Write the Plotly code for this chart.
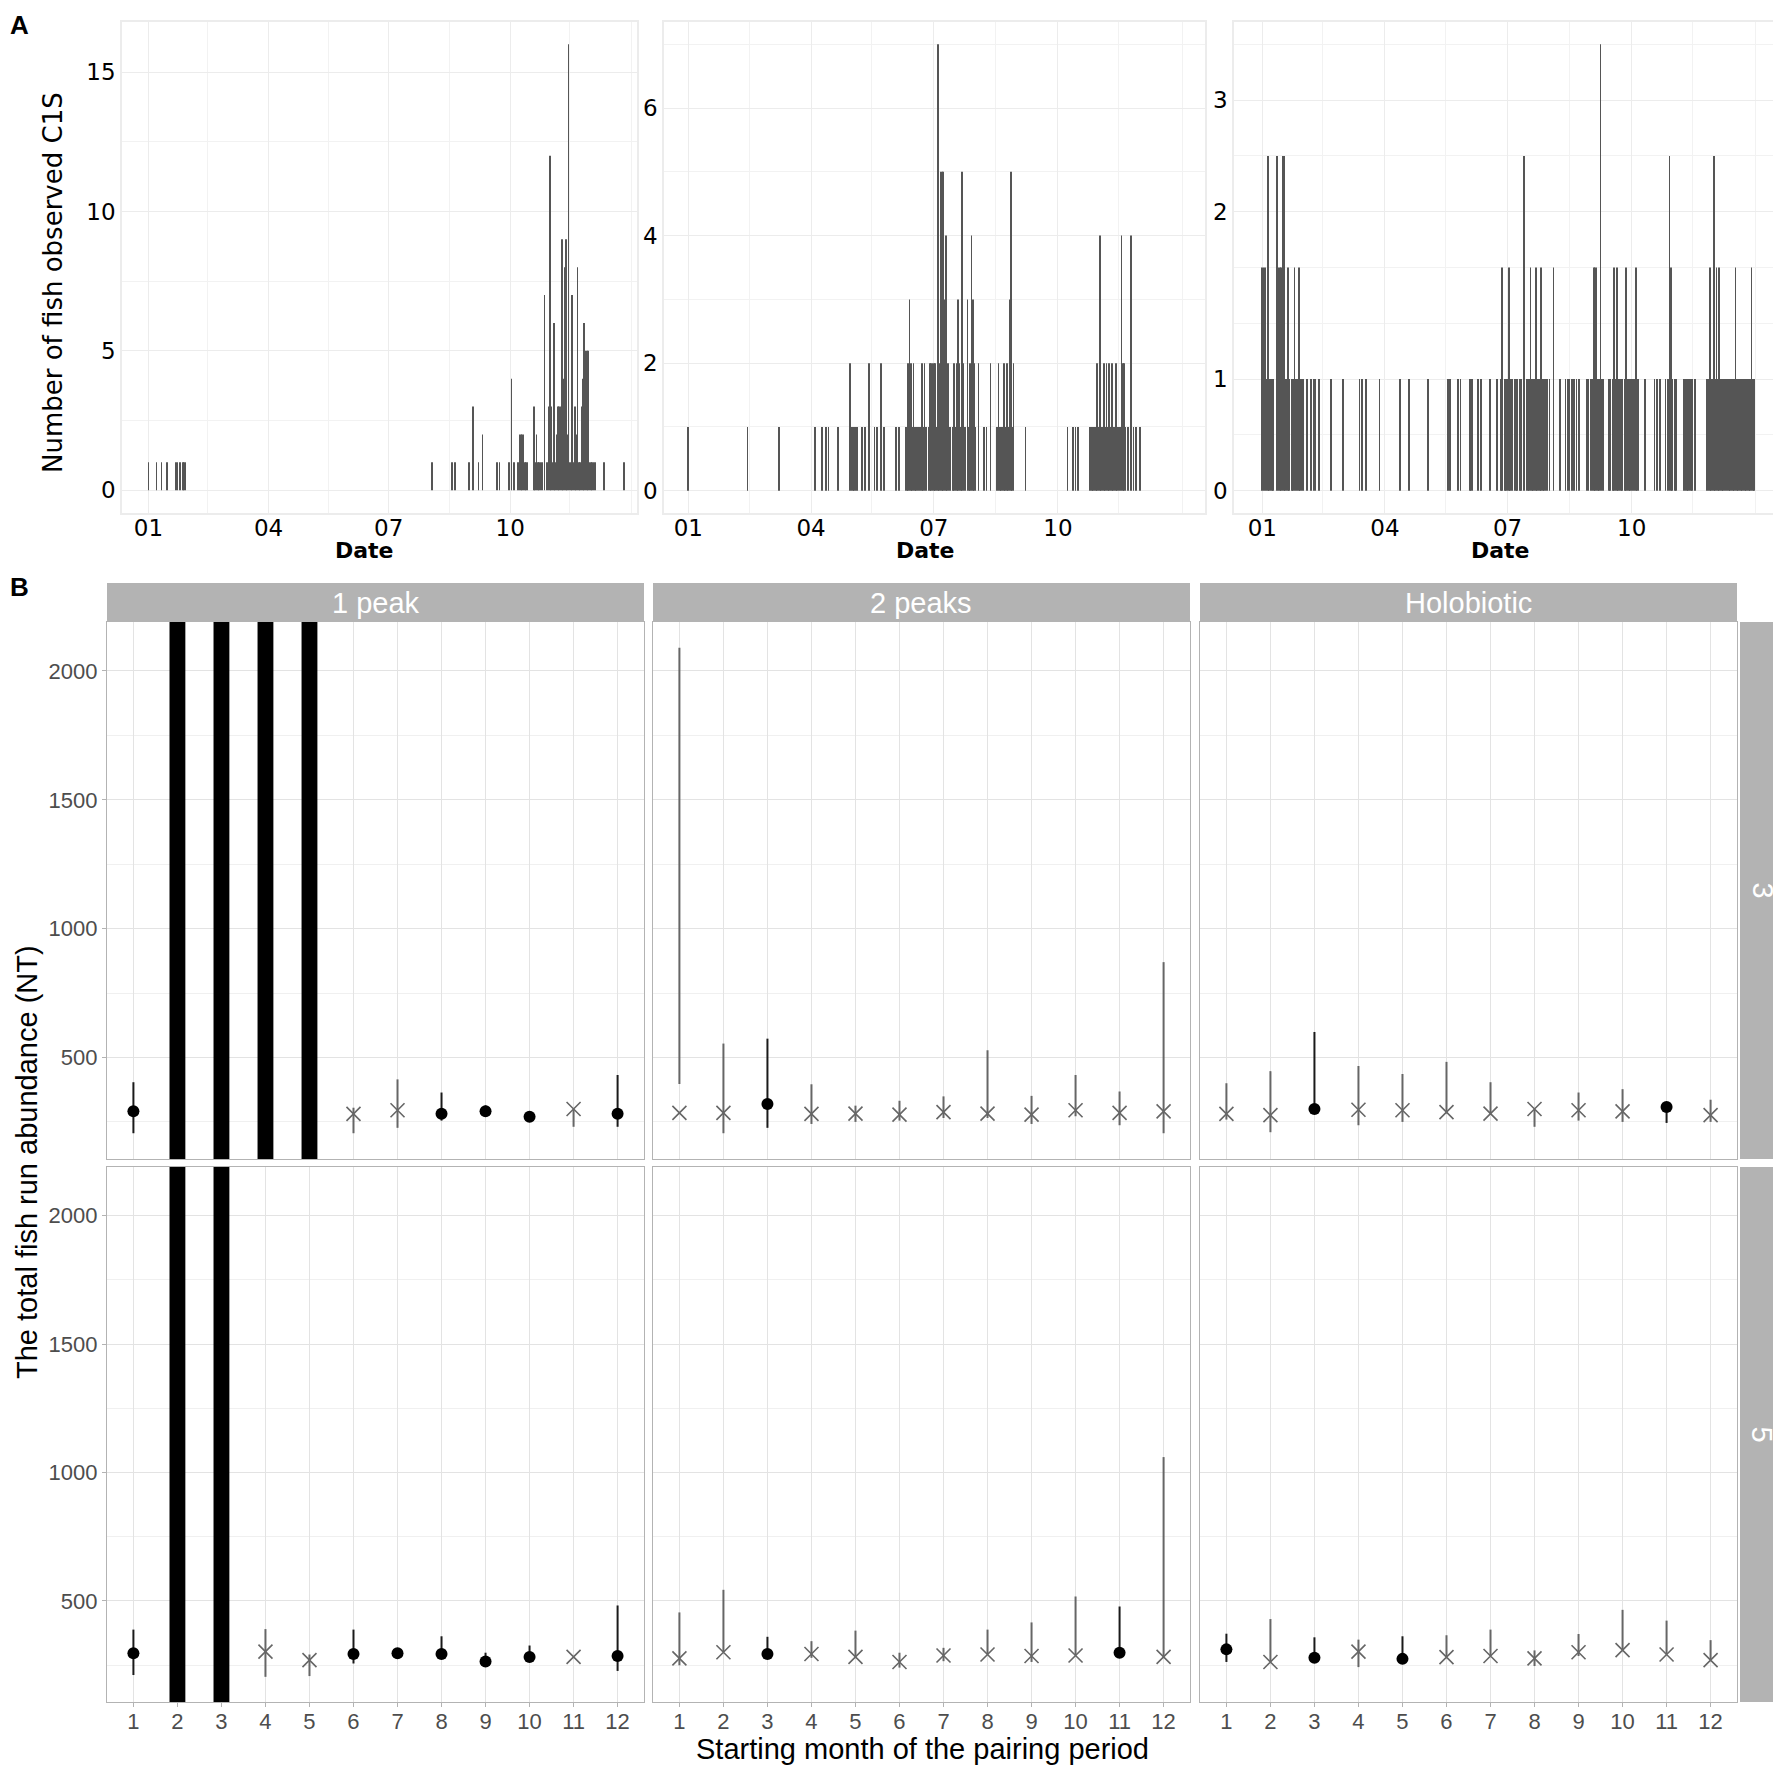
import numpy as np
import pandas as pd
import plotly.graph_objects as go

W, H = 1781, 1770

# ---------------- panel A : fish observed per day (day of year, 2020) ----------------
a1_days = [1, 7, 11, 15, 22, 23, 25, 27, 28, 29,
           216, 231, 233, 244, 247, 251, 254, 265, 267, 274,
           276, 278, 281, 282, 283, 284, 285, 286, 287, 288,
           293, 294, 295, 296, 297, 298, 299, 301, 303, 304,
           305, 306, 307, 308, 309, 310, 311, 312, 313, 314,
           315, 316, 317, 318, 319, 320, 321, 322, 323, 324,
           325, 326, 327, 328, 329, 330, 331, 332, 333, 334,
           335, 336, 337, 338, 339, 346, 361]
a1_counts = [1, 1, 1, 1, 1, 1, 1, 1, 1, 1,
             1, 1, 1, 1, 3, 1, 2, 1, 1, 1,
             4, 1, 1, 2, 2, 2, 2, 1, 1, 1,
             3, 1, 2, 1, 1, 1, 1, 7, 1, 3,
             12, 3, 1, 6, 1, 2, 3, 3, 3, 9,
             4, 8, 9, 2, 16, 1, 1, 7, 1, 3,
             2, 8, 1, 1, 3, 4, 6, 5, 5, 5,
             1, 1, 1, 1, 1, 1, 1]

a2_days = [1, 45, 68, 95, 100, 103, 105, 112, 121, 122,
           123, 124, 125, 126, 130, 132, 135, 139, 141, 144,
           146, 155, 157, 162, 163, 164, 165, 166, 167, 168,
           169, 170, 171, 172, 173, 174, 175, 176, 177, 179,
           180, 181, 182, 183, 184, 185, 186, 187, 188, 189,
           190, 191, 192, 193, 194, 195, 197, 198, 199, 200,
           201, 202, 203, 204, 205, 206, 208, 209, 210, 211,
           212, 213, 214, 216, 220, 222, 225, 230, 231, 232,
           233, 234, 235, 236, 237, 238, 239, 240, 241, 242,
           251, 282, 286, 288, 290, 299, 300, 301, 302, 303,
           304, 305, 306, 307, 308, 309, 310, 311, 312, 313,
           314, 315, 316, 317, 318, 319, 320, 321, 322, 323,
           324, 325, 327, 329, 331, 333, 336]
a2_counts = [1, 1, 1, 1, 1, 1, 1, 1, 2, 1,
             1, 1, 1, 1, 1, 1, 2, 1, 1, 2,
             1, 1, 1, 1, 1, 2, 3, 2, 1, 2,
             1, 1, 1, 1, 1, 2, 1, 2, 1, 1,
             2, 2, 2, 2, 2, 1, 7, 2, 5, 5,
             5, 3, 4, 2, 2, 1, 1, 2, 1, 2,
             3, 2, 1, 5, 2, 1, 3, 1, 2, 4,
             3, 2, 1, 2, 1, 1, 2, 1, 2, 1,
             1, 1, 2, 1, 2, 1, 3, 5, 1, 2,
             1, 1, 1, 1, 1, 1, 1, 1, 1, 1,
             2, 1, 4, 1, 1, 2, 1, 2, 1, 2,
             1, 2, 1, 1, 2, 1, 1, 1, 4, 2,
             2, 1, 1, 4, 1, 1, 1]

a3_days = [1, 2, 3, 4, 5, 6, 7, 8, 9, 12,
           13, 14, 15, 16, 17, 18, 19, 20, 21, 23,
           24, 25, 26, 27, 28, 29, 30, 31, 34, 37,
           39, 40, 43, 52, 61, 73, 75, 78, 88, 103,
           110, 124, 139, 140, 146, 148, 155, 156, 157, 161,
           163, 170, 175, 178, 179, 181, 182, 183, 184, 185,
           186, 188, 189, 190, 192, 193, 195, 197, 198, 199,
           200, 201, 202, 203, 204, 205, 206, 207, 208, 209,
           210, 211, 212, 214, 217, 222, 226, 228, 229, 231,
           232, 234, 236, 242, 243, 245, 246, 247, 248, 249,
           250, 251, 252, 253, 254, 258, 259, 261, 262, 263,
           264, 265, 266, 267, 268, 270, 271, 272, 273, 274,
           275, 276, 277, 278, 279, 280, 285, 292, 294, 296,
           300, 302, 303, 304, 305, 307, 308, 314, 315, 316,
           317, 318, 319, 320, 322, 331, 332, 333, 334, 335,
           336, 337, 338, 339, 340, 341, 342, 343, 344, 345,
           346, 347, 348, 349, 350, 351, 352, 353, 354, 355,
           356, 357, 358, 359, 360, 361, 362, 363, 364, 365,
           366]
a3_counts = [2, 2, 2, 1, 3, 1, 1, 1, 1, 3,
             2, 2, 2, 3, 3, 1, 1, 2, 1, 1,
             1, 2, 1, 1, 2, 1, 1, 1, 1, 1,
             1, 1, 1, 1, 1, 1, 1, 1, 1, 1,
             1, 1, 1, 1, 1, 1, 1, 1, 1, 1,
             1, 1, 1, 1, 2, 1, 1, 1, 2, 1,
             1, 1, 1, 1, 1, 1, 3, 1, 1, 1,
             2, 1, 1, 1, 2, 1, 1, 1, 2, 1,
             1, 1, 1, 1, 2, 1, 1, 1, 1, 1,
             1, 1, 1, 1, 1, 1, 1, 2, 2, 2,
             1, 1, 4, 1, 1, 1, 1, 1, 2, 1,
             2, 1, 1, 1, 1, 1, 2, 1, 1, 1,
             1, 1, 1, 2, 1, 1, 1, 1, 1, 1,
             1, 1, 3, 2, 1, 1, 1, 1, 1, 1,
             1, 1, 1, 1, 1, 1, 1, 2, 1, 1,
             3, 1, 2, 1, 2, 1, 1, 1, 1, 1,
             1, 1, 1, 1, 1, 1, 2, 1, 1, 1,
             1, 1, 1, 1, 1, 1, 1, 1, 2, 1,
             1]

date_ticks = ["2020-01-01", "2020-04-01", "2020-07-01", "2020-10-01"]
date_labels = ["01", "04", "07", "10"]
date_minor = ["2020-02-15", "2020-05-16", "2020-08-16", "2020-11-15", "2021-01-01"]

# ---------------- panel B : total fish run abundance ----------------
months = [1, 2, 3, 4, 5, 6, 7, 8, 9, 10, 11, 12]
col_labels = ["1 peak", "2 peaks", "Holobiotic"]
row_labels = ["3", "5"]
OPEN_TOP = 10000  # unbounded interval, drawn as a full-height bar

peak1_r3_est = [291, None, None, None, None, 281, 295, 282, 291, 270, 300, 282]
peak1_r3_lo = [206, None, None, None, None, 206, 227, 255, 272, 262, 231, 231]
peak1_r3_hi = [404, None, None, None, None, 305, 415, 364, 314, 280, 300, 432]
peak1_r3_shape = ["o", "", "", "", "", "x", "x", "o", "o", "o", "x", "o"]
peak1_r3_open = [2, 3, 4, 5]

peak2_r3_est = [285, 285, 319, 281, 282, 278, 288, 282, 278, 295, 285, 291]
peak2_r3_lo = [397, 206, 227, 242, 250, 255, 265, 265, 242, 272, 237, 206]
peak2_r3_hi = [2090, 554, 573, 396, 313, 332, 349, 528, 351, 432, 368, 870]
peak2_r3_shape = ["x", "x", "o", "x", "x", "x", "x", "x", "x", "x", "x", "x"]
peak2_r3_open = []

holo_r3_est = [281, 276, 300, 297, 295, 288, 282, 300, 295, 291, 308, 276]
holo_r3_lo = [259, 210, 300, 237, 250, 283, 282, 231, 255, 250, 246, 250]
holo_r3_hi = [400, 447, 599, 467, 436, 483, 404, 300, 364, 377, 323, 336]
holo_r3_shape = ["x", "x", "o", "x", "x", "x", "x", "x", "x", "x", "o", "x"]
holo_r3_open = []

peak1_r5_est = [296, None, None, 302, 269, 293, 296, 293, 264, 281, 282, 285]
peak1_r5_lo = [211, None, None, 204, 207, 256, 285, 278, 249, 265, 282, 227]
peak1_r5_hi = [388, None, None, 390, 291, 388, 314, 362, 298, 326, 282, 482]
peak1_r5_shape = ["o", "", "", "x", "x", "o", "o", "o", "o", "o", "x", "o"]
peak1_r5_open = [2, 3]

peak2_r5_est = [276, 300, 293, 293, 282, 262, 287, 291, 285, 287, 298, 282]
peak2_r5_lo = [249, 300, 293, 278, 282, 240, 265, 291, 262, 287, 278, 282]
peak2_r5_hi = [455, 543, 360, 343, 384, 298, 317, 388, 416, 517, 478, 1060]
peak2_r5_shape = ["x", "x", "o", "x", "x", "x", "x", "x", "x", "x", "o", "x"]
peak2_r5_open = []

holo_r5_est = [311, 262, 278, 302, 274, 281, 285, 276, 300, 308, 291, 269]
holo_r5_lo = [262, 262, 259, 242, 274, 281, 285, 246, 285, 308, 291, 269]
holo_r5_hi = [372, 429, 358, 349, 362, 366, 388, 307, 371, 465, 423, 347]
holo_r5_shape = ["o", "x", "o", "x", "o", "x", "x", "x", "x", "x", "x", "x"]
holo_r5_open = []

b_panels = [
    (peak1_r3_est, peak1_r3_lo, peak1_r3_hi, peak1_r3_shape, peak1_r3_open),
    (peak2_r3_est, peak2_r3_lo, peak2_r3_hi, peak2_r3_shape, peak2_r3_open),
    (holo_r3_est, holo_r3_lo, holo_r3_hi, holo_r3_shape, holo_r3_open),
    (peak1_r5_est, peak1_r5_lo, peak1_r5_hi, peak1_r5_shape, peak1_r5_open),
    (peak2_r5_est, peak2_r5_lo, peak2_r5_hi, peak2_r5_shape, peak2_r5_open),
    (holo_r5_est, holo_r5_lo, holo_r5_hi, holo_r5_shape, holo_r5_open),
]


def fx(p):
    return p / W


def fy(p):
    return 1 - p / H


def to_dates(days):
    base = pd.Timestamp("2020-01-01")
    return [base + pd.Timedelta(days=d - 1) for d in days]


def ax(n):
    return ("x" if n == 1 else "x%d" % n), ("y" if n == 1 else "y%d" % n)


fig = go.Figure()
layout = {}

# ---- A panels
a_data = [(a1_days, a1_counts), (a2_days, a2_counts), (a3_days, a3_counts)]
a_xpx = [(114, 629), (656, 1197), (1226, 1780)]
a_xrange = [["2019-12-12", "2021-01-05"], ["2019-12-14", "2021-01-18"], ["2019-12-11", "2021-01-25"]]
a_yrange = [[-0.82, 16.8], [-0.35, 7.35], [-0.2, 4.2]]
a_yticks = [([0, 5, 10, 15], ["0", "5", "10", "15"], 2.5),
            ([0, 2, 4, 6], ["0", "2", "4", "6"], 1),
            ([0, 1, 2.5, 3.5], ["0", "1", "2", "3"], 0.5)]

a_font = dict(family="DejaVu Sans", size=23, color="black")
for i in range(3):
    n = i + 1
    xa, ya = ax(n)
    days, counts = a_data[i]
    fig.add_trace(go.Bar(x=to_dates(days), y=counts, width=0.5 * 86400000,
                         marker=dict(color="#555555", line=dict(width=0)),
                         xaxis=xa, yaxis=ya, showlegend=False))
    layout["xaxis" if n == 1 else "xaxis%d" % n] = dict(
        domain=[fx(a_xpx[i][0]), fx(a_xpx[i][1])], anchor=ya, type="date",
        range=a_xrange[i], tickmode="array", tickvals=date_ticks, ticktext=date_labels,
        tickfont=a_font, ticklabelstandoff=-6, showgrid=True, gridcolor="#ececec", gridwidth=1,
        minor=dict(tickmode="array", tickvals=date_minor, showgrid=True, gridcolor="#f2f2f2"),
        showline=True, mirror=True, linecolor="#ececec", linewidth=1.5, zeroline=False, ticks="")
    tv, tt, mdt = a_yticks[i]
    layout["yaxis" if n == 1 else "yaxis%d" % n] = dict(
        domain=[fy(505), fy(14)], anchor=xa, range=a_yrange[i],
        tickmode="array", tickvals=tv, ticktext=tt, tickfont=a_font,
        showgrid=True, gridcolor="#ececec", gridwidth=1,
        minor=dict(dtick=mdt, tick0=0, showgrid=True, gridcolor="#f2f2f2"),
        showline=True, mirror=True, linecolor="#ececec", linewidth=1.5, zeroline=False, ticks="")

# ---- B panels
b_xpx = [(99, 636), (645, 1182), (1192, 1729)]
b_ypx = [(614, 1151), (1159, 1694)]
b_font = dict(family="Liberation Sans", size=22, color="#4d4d4d")
for k, (est, lo, hi, shape, open_m) in enumerate(b_panels):
    r, c = divmod(k, 3)
    n = 4 + k
    xa, ya = ax(n)
    if open_m:
        fig.add_trace(go.Bar(x=open_m, y=[OPEN_TOP] * len(open_m), base=0, width=0.36,
                             marker=dict(color="black", line=dict(width=0)),
                             xaxis=xa, yaxis=ya, showlegend=False))
    for sym, lcol in (("x", "#666666"), ("o", "#1a1a1a")):
        sx, sy = [], []
        px_, py_ = [], []
        for m, e, l, h, s in zip(months, est, lo, hi, shape):
            if s != sym:
                continue
            sx += [m, m, None]
            sy += [l, h, None]
            px_.append(m)
            py_.append(e)
        fig.add_trace(go.Scatter(x=sx, y=sy, mode="lines", line=dict(color=lcol, width=2),
                                 xaxis=xa, yaxis=ya, showlegend=False, hoverinfo="skip"))
        if sym == "x":
            mk = dict(symbol="x-thin", size=14, line=dict(color="#666666", width=1.6))
        else:
            mk = dict(symbol="circle", size=12, color="black", line=dict(width=0))
        fig.add_trace(go.Scatter(x=px_, y=py_, mode="markers", marker=mk,
                                 xaxis=xa, yaxis=ya, showlegend=False))
    layout["xaxis%d" % n] = dict(
        domain=[fx(b_xpx[c][0]), fx(b_xpx[c][1])], anchor=ya, range=[0.4, 12.6],
        tickmode="array", tickvals=months, showticklabels=(r == 1), tickfont=b_font,
        ticks="outside" if r == 1 else "", ticklen=4, tickcolor="#b3b3b3", ticklabelstandoff=-5,
        showgrid=True, gridcolor="#e3e3e3", gridwidth=1.2,
        showline=True, mirror=True, linecolor="#b3b3b3", linewidth=1.4, zeroline=False)
    layout["yaxis%d" % n] = dict(
        domain=[fy(b_ypx[r][1]), fy(b_ypx[r][0])], anchor=xa, range=[106, 2190],
        tickmode="array", tickvals=[500, 1000, 1500, 2000], showticklabels=(c == 0), tickfont=b_font,
        ticks="outside" if c == 0 else "", ticklen=4, tickcolor="#b3b3b3",
        showgrid=True, gridcolor="#e3e3e3", gridwidth=1.2,
        minor=dict(dtick=250, tick0=0, showgrid=True, gridcolor="#f0f0f0", gridwidth=1),
        showline=True, mirror=True, linecolor="#b3b3b3", linewidth=1.4, zeroline=False)

# strips
shapes = []
for c in range(3):
    shapes.append(dict(type="rect", xref="paper", yref="paper", x0=fx(b_xpx[c][0]), x1=fx(b_xpx[c][1]),
                       y0=fy(614), y1=fy(575), fillcolor="#b3b3b3", line=dict(width=0), layer="below"))
for r in range(2):
    shapes.append(dict(type="rect", xref="paper", yref="paper", x0=fx(1732), x1=fx(1776),
                       y0=fy(b_ypx[r][1]), y1=fy(b_ypx[r][0]), fillcolor="#b3b3b3", line=dict(width=0),
                       layer="below"))


def note(text, x, y, size, family="Liberation Sans", color="black", angle=0, xanchor="center"):
    return dict(text=text, x=fx(x), y=fy(y), xref="paper", yref="paper", showarrow=False,
                font=dict(family=family, size=size, color=color), textangle=angle,
                xanchor=xanchor, yanchor="middle")


annotations = [
    note("<b>A</b>", 0, 17, 26, xanchor="left"),
    note("<b>B</b>", 0, 579, 26, xanchor="left"),
    note("Number of fish observed C1S", 45, 275, 26, family="DejaVu Sans", angle=-90),
    note("<b>Date</b>", 356, 542, 22, family="DejaVu Sans"),
    note("<b>Date</b>", 917, 542, 22, family="DejaVu Sans"),
    note("<b>Date</b>", 1492, 542, 22, family="DejaVu Sans"),
    note("Starting month of the pairing period", 914, 1741, 29),
    note("The total fish run abundance (NT)", 19, 1154, 29, angle=-90),
]
for c in range(3):
    annotations.append(note(col_labels[c], (b_xpx[c][0] + b_xpx[c][1]) / 2, 595, 29, color="white"))
for r in range(2):
    annotations.append(note(row_labels[r], 1754, (b_ypx[r][0] + b_ypx[r][1]) / 2, 29, color="white", angle=90))

fig.update_layout(
    width=W, height=H, margin=dict(l=0, r=0, t=0, b=0),
    paper_bgcolor="white", plot_bgcolor="white", barmode="overlay",
    font=dict(family="Liberation Sans"),
    shapes=shapes, annotations=annotations, showlegend=False,
    **layout)

fig.write_html("out.html")
